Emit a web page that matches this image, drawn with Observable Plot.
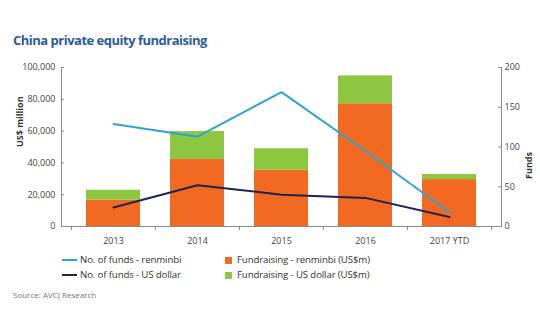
<!DOCTYPE html>
<html><head><meta charset="utf-8">
<script src="https://cdn.jsdelivr.net/npm/d3@7"></script>
<script src="https://cdn.jsdelivr.net/npm/@observablehq/plot@0.6"></script>
<style>
body{margin:0;background:#fff;font-family:"Open Sans",sans-serif;}
#wrap{position:relative;width:540px;height:334px;overflow:hidden;}
#title{position:absolute;left:13px;top:31px;font-size:13px;font-weight:700;color:#2b5c9e;letter-spacing:-0.5px;white-space:nowrap;}
#chart{position:absolute;left:0;top:0;}
.lg{position:absolute;font-size:9.7px;color:#333;white-space:nowrap;letter-spacing:-0.15px;}
.sw{position:absolute;}
#src{position:absolute;left:13px;top:289px;font-size:8px;color:#777;}
</style></head>
<body><div id="wrap">
<div id="title">China private equity fundraising</div>
<div id="chart"></div>
<div id="legend"></div>
<div id="src">Source: AVCJ Research</div>
</div>
<script>
const years = ["2013","2014","2015","2016","2017 YTD"];
const rmbFunding = [16600, 42200, 35400, 77200, 29500];
const usdFunding = [6200, 17500, 13500, 17500, 3200];
const rmbFunds = [129, 113, 169, 95, 18];
const usdFunds = [24, 52, 40, 36, 12];
const leftTicks = [0, 20000, 40000, 60000, 80000, 100000];
const rightTicks = [0, 50, 100, 150, 200];
const seriesNames = ["Fundraising - renminbi (US$m)", "Fundraising - US dollar (US$m)"];
const lineNames = ["No. of funds - renminbi", "No. of funds - US dollar"];
const colors = {orange:"#f26a22", green:"#8dc63f", blue:"#2ea3d3", navy:"#1d2452"};
const ratio = 100000 / 200; // right axis maps 0-200 onto 0-100,000

const bars = [];
years.forEach((y,i)=>{
  bars.push({year:y, series:seriesNames[0], value:rmbFunding[i]});
  bars.push({year:y, series:seriesNames[1], value:usdFunding[i]});
});
const lineRmb = years.map((y,i)=>({year:y, funds:rmbFunds[i]}));
const lineUsd = years.map((y,i)=>({year:y, funds:usdFunds[i]}));

const axisColor = "#8a8a8a";
const chart = Plot.plot({
  width:540, height:334,
  marginTop:67, marginBottom:108, marginLeft:61, marginRight:39,
  style:{fontFamily:"Open Sans, sans-serif", fontSize:"9px", color:"#444", background:"transparent"},
  x:{type:"band", domain:years, range:[70,491], paddingInner:0.36, paddingOuter:0.18},
  y:{domain:[0,100000]},
  color:{domain:seriesNames, range:[colors.orange, colors.green]},
  marks:[
    Plot.barY(bars, {x:"year", y:"value", fill:"series"}),
    Plot.line(lineRmb, {x:"year", y:d=>d.funds*ratio, stroke:colors.blue, strokeWidth:2}),
    Plot.line(lineUsd, {x:"year", y:d=>d.funds*ratio, stroke:colors.navy, strokeWidth:2}),
    Plot.ruleY([0], {stroke:axisColor}),
    Plot.frame({anchor:"left", stroke:axisColor}),
    Plot.frame({anchor:"right", stroke:axisColor}),
    Plot.ruleY(leftTicks.slice(1), {stroke:axisColor, insetRight:437}),
    Plot.ruleY(rightTicks.slice(1).map(v=>v*ratio), {stroke:axisColor, insetLeft:437}),
    Plot.ruleX(years, {x:d=>d, y1:0, y2:0, insetBottom:-4, dx:-42.1, stroke:axisColor}),
    Plot.ruleX(years.slice(-1), {x:d=>d, y1:0, y2:0, insetBottom:-4, dx:42.1, stroke:axisColor}),
    Plot.axisX({tickSize:0, tickPadding:11, label:null, fill:"#444"}),
    Plot.axisY({ticks:leftTicks, tickSize:0, tickPadding:6, tickFormat:d3.format(","), label:null, fill:"#444"}),
    Plot.axisY({anchor:"right", ticks:rightTicks.map(v=>v*ratio), tickSize:0, tickPadding:3, tickFormat:d=>d/ratio, label:null, fill:"#444"}),
    Plot.text(["US$ million"], {frameAnchor:"left", rotate:-90, dx:-41, fontWeight:"bold", fontSize:9, fill:"#333"}),
    Plot.text(["Funds"], {frameAnchor:"right", rotate:-90, dx:28, dy:5, fontWeight:"bold", fontSize:9, fill:"#333"})
  ]
});
document.getElementById("chart").appendChild(chart);

const lg = document.getElementById("legend");
const items = [
  {type:"line", color:colors.blue, label:lineNames[0], x:62, y:260},
  {type:"line", color:colors.navy, label:lineNames[1], x:62, y:275},
  {type:"box", color:colors.orange, label:seriesNames[0], x:225, y:260},
  {type:"box", color:colors.green, label:seriesNames[1], x:225, y:275}
];
items.forEach(it=>{
  const s = document.createElement("div");
  s.className="sw";
  if(it.type==="line"){
    Object.assign(s.style,{left:it.x+"px", top:(it.y-1)+"px", width:"15px", height:"2px", background:it.color});
  } else {
    Object.assign(s.style,{left:it.x+"px", top:(it.y-3.5)+"px", width:"7px", height:"7px", background:it.color});
  }
  lg.appendChild(s);
  const t = document.createElement("div");
  t.className="lg";
  t.textContent = it.label;
  Object.assign(t.style,{left:(it.x + (it.type==="line"?18:12))+"px", top:(it.y-7.5)+"px"});
  lg.appendChild(t);
});
</script>
</body></html>
